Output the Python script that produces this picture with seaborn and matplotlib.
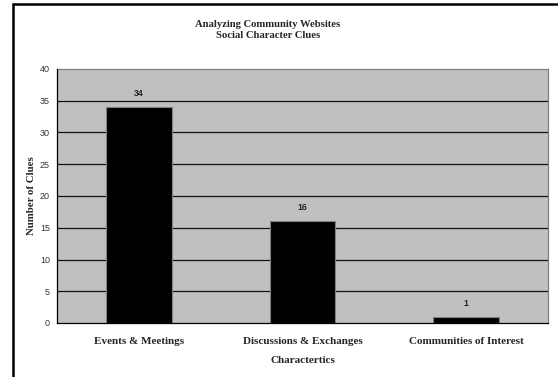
import matplotlib
matplotlib.use("Agg")
import matplotlib.pyplot as plt
import seaborn as sns
import pandas as pd
from matplotlib.lines import Line2D

categories = ["Events & Meetings", "Discussions & Exchanges", "Communities of Interest"]
clues = [34, 16, 1]
y_ticks = [0, 5, 10, 15, 20, 25, 30, 35, 40]

df = pd.DataFrame({"category": categories, "clues": clues})

sns.set_theme(style="white")
serif = ["Liberation Serif", "DejaVu Serif"]
sans = ["Liberation Sans", "DejaVu Sans"]

fig = plt.figure(figsize=(5.58, 3.77), dpi=100)
ax = fig.add_axes([57 / 558, 1 - 323 / 377, 491 / 558, 254 / 377])
ax.set_facecolor("#c0c0c0")

sns.barplot(data=df, x="category", y="clues", color="black", width=0.4,
            edgecolor="#808080", linewidth=0.8, saturation=1, ax=ax, zorder=3)

ax.set_ylim(0, 40)
ax.set_xlim(-0.5, len(categories) - 0.5)
ax.set_yticks(y_ticks)
ax.set_yticklabels([str(t) for t in y_ticks], fontsize=6.5, family=sans, color="#333333")
for t in y_ticks[1:-1]:
    ax.axhline(t, color="#111111", linewidth=0.9, zorder=1)

# category tick marks at the boundaries between groups
ax.set_xticks([-0.5 + i for i in range(len(categories) + 1)], minor=True)
ax.set_xticks(range(len(categories)))
ax.set_xticklabels(categories, fontsize=8, family=serif, fontweight="bold")
ax.tick_params(axis="x", which="major", length=0, pad=10)
ax.tick_params(axis="x", which="minor", length=4, width=0.9, color="black", direction="out")
ax.tick_params(axis="y", length=3, width=0.9, color="black", direction="out", pad=2)

for side in ["top", "right"]:
    ax.spines[side].set_color("#808080")
    ax.spines[side].set_linewidth(0.9)
for side in ["left", "bottom"]:
    ax.spines[side].set_color("black")
    ax.spines[side].set_linewidth(0.9)
    ax.spines[side].set_zorder(4)

for i, v in enumerate(clues):
    ax.annotate(str(v), (i, v), xytext=(0, 6.5), textcoords="offset points",
                ha="center", va="bottom", fontsize=6.3, family=sans,
                fontweight="bold", color="#222222")

ax.set_xlabel("Charactertics", fontsize=8, family=serif, fontweight="bold", labelpad=7)
ax.set_ylabel("Number of Clues", fontsize=7.8, family=serif, fontweight="bold", labelpad=3)

fig.text(268 / 558, 1 - 30 / 377,
         "Analyzing Community Websites\nSocial Character Clues",
         ha="center", va="center", fontsize=7.7, family=serif, fontweight="bold",
         linespacing=1.3)

# frame lines along the top and left of the figure
fig.add_artist(Line2D([12.5 / 558, 1.0], [1 - 3.5 / 377, 1 - 3.5 / 377],
                      transform=fig.transFigure, color="black", linewidth=1.8))
fig.add_artist(Line2D([12.5 / 558, 12.5 / 558], [0.0, 1 - 3.5 / 377],
                      transform=fig.transFigure, color="black", linewidth=1.8))

fig.savefig("out.png", dpi=100, facecolor="white")
